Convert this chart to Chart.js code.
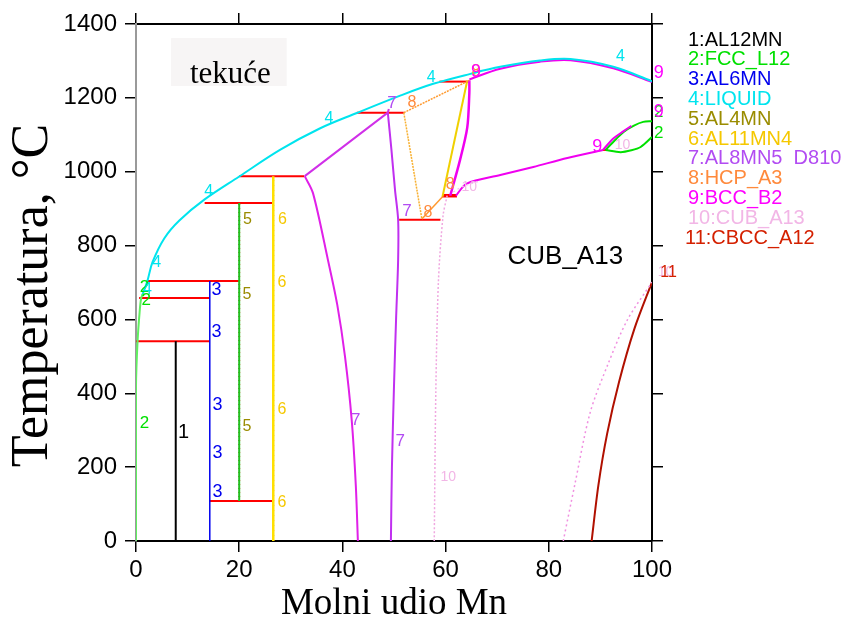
<!DOCTYPE html>
<html>
<head>
<meta charset="utf-8">
<title>Al-Mn</title>
<script src="https://cdn.jsdelivr.net/npm/chart.js@4.4.1/dist/chart.umd.min.js"></script>
<style>
  body { margin: 0; background: #fff; }
  canvas { display: block; }
</style>
</head>
<body>
<canvas id="phaseChart" width="847" height="626"></canvas>
<script>
// Phase names and their colours
const phases = ['1:AL12MN', '2:FCC_L12', '3:AL6MN', '4:LIQUID', '5:AL4MN', '6:AL11MN4',
    '7:AL8MN5  D810', '8:HCP_A3', '9:BCC_B2', '10:CUB_A13', '11:CBCC_A12'];
const phaseColors = ['#000000', '#00e000', '#0000ee', '#00e4ee', '#9a8c00', '#f5c800',
    '#b24cf2', '#ff8a3c', '#ff00ff', '#f2b6e6', '#d42000'];

// Boundaries as [x (mol Mn %), T (°C)]
const liquidus = [[1.2, 665], [2.2, 704], [3.2, 755], [5.5, 820], [8.4, 868], [13.3, 925], [20, 987],
    [27.9, 1059], [35.6, 1117], [42.8, 1159], [51.2, 1206], [57.6, 1238], [64.8, 1265], [70.6, 1284],
    [78.3, 1301], [84.2, 1305], [92.5, 1284], [100, 1245]];
const bccSolidus = [[64.6, 1250], [70.6, 1279], [78.3, 1298], [84.2, 1302], [92.5, 1280], [100, 1243]];
const fccAl = [[0, 0], [0, 420], [0.3, 540], [0.7, 620], [1.0, 658], [1.3, 668]];

const invariants = [
    [[0, 541], [14.3, 541]],
    [[0.6, 658], [14.3, 658]],
    [[2.2, 704], [20, 704]],
    [[13.3, 915], [26.6, 915]],
    [[20, 988], [32.6, 988]],
    [[42.8, 1160], [51.9, 1160]],
    [[58.8, 1244], [64.6, 1244]],
    [[51.0, 870], [59.0, 870]],
    [[14.3, 108], [26.6, 108]],
    [[90.4, 1059], [91.4, 1059]]
];
const inv935 = [[59.3, 935], [62.2, 935]];

const al12mn = [[7.7, 0], [7.7, 541]];
const al6mn = [[14.3, 0], [14.3, 704]];
const al4mn = [[20, 108], [20, 915]];
const al11mn4 = [[26.6, 0], [26.6, 988]];

const d810Top = [[32.7, 988], [48.8, 1160], [49.0, 1170]];
const d810Left = [[32.7, 988], [34.3, 942], [37.2, 761], [39.0, 640], [40.5, 500], [41.8, 328], [42.6, 150], [43.0, 0]];
const d810Right = [[48.8, 1160], [49.5, 1060], [50.2, 950], [50.8, 870], [50.8, 761], [50.4, 600], [50.0, 420], [49.6, 200], [49.4, 0]];

const hcpTop = [[51.9, 1160], [64.6, 1247]];
const hcpLeft = [[51.9, 1160], [55.4, 872]];
const hcpBottom = [[55.4, 872], [59.4, 932]];
const hcpRight = [[59.4, 932], [64.2, 1247]];

const bccLeft = [[60.9, 935], [62.8, 1032], [64.2, 1120], [64.6, 1213], [64.6, 1248]];
const bccLower = [[62.0, 935], [64.1, 968], [70.6, 991], [77.0, 1013], [83.6, 1037], [90.5, 1059]];
const bccLoop = [[90.5, 1059], [92.5, 1090], [94.5, 1110], [96.0, 1124]];

const fccMnUpper = [[91.0, 1059], [93.0, 1088], [94.5, 1108], [96.5, 1125], [98.3, 1135], [100, 1137]];
const fccMnLower = [[91.0, 1059], [93.9, 1053], [96.0, 1058], [97.8, 1067], [100, 1094]];

const cubLeft = [[60.3, 935], [59.5, 880], [58.6, 700], [58.1, 400], [57.8, 0]];
const cubRight = [[82.8, 0], [85.0, 150], [88.0, 347], [91.5, 480], [95.2, 598], [100, 701]];
const cubTop = [[61.5, 945], [63.0, 958], [66.7, 975]];
const cbcc = [[88.3, 0], [89.6, 150], [91.3, 290], [93.6, 430], [96.6, 575], [100, 701]];

// Phase number tags: [text, x, T, phase index]
const tags = [
    ['1', 9.2, 295, 0],
    ['2', 1.65, 320, 1], ['2', 1.65, 688, 1], ['2', 2.0, 653, 1], ['2', 101.3, 1162, 1], ['2', 101.3, 1105, 1],
    ['3', 15.6, 680, 2], ['3', 15.6, 566, 2], ['3', 15.8, 368, 2], ['3', 15.8, 238, 2], ['3', 15.8, 133, 2],
    ['4', 2.2, 680, 3], ['4', 4.0, 753, 3], ['4', 14.1, 945, 3], ['4', 37.4, 1145, 3], ['4', 57.2, 1256, 3], ['4', 93.9, 1311, 3],
    ['5', 21.6, 869, 4], ['5', 21.5, 666, 4], ['5', 21.5, 309, 4],
    ['6', 28.4, 869, 5], ['6', 28.3, 699, 5], ['6', 28.3, 355, 5], ['6', 28.3, 103, 5],
    ['7', 42.6, 328, 6], ['7', 51.2, 271, 6], ['7', 52.5, 894, 6], ['7', 49.6, 1186, 6],
    ['8', 53.5, 1186, 7], ['8', 56.6, 888, 7], ['8', 60.9, 964, 7], ['8', 65.9, 1270, 7],
    ['9', 65.9, 1270, 8], ['9', 101.3, 1267, 8], ['9', 101.3, 1162, 8], ['9', 89.4, 1067, 8],
    ['10', 60.5, 173, 9], ['10', 94.3, 1072, 9], ['10', 64.6, 959, 9], ['10', 102.6, 728, 9],
    ['11', 103.2, 728, 10]
];
const tagSizes = [20, 17, 18, 16, 16, 16, 17, 16, 18, 14, 16];

const toPts = arr => arr.map(([x, y]) => ({ x: x, y: y }));

function curve(pts, color, width, extra) {
    return Object.assign({
        data: toPts(pts),
        borderColor: color,
        backgroundColor: color,
        borderWidth: width,
        showLine: true,
        pointRadius: 0,
        pointHoverRadius: 0,
        tension: 0.35,
        fill: false
    }, extra || {});
}

const datasets = [
    curve(cubLeft, '#f0a8e0', 1.5, { borderDash: [2, 2], tension: 0.3 }),
    curve(cubRight, '#f090e0', 1.5, { borderDash: [2, 3], tension: 0.3 }),
    curve(cubTop, '#f4c0ec', 1.2, { borderDash: [2, 3] }),
    curve(fccAl, '#60f060', 2, { tension: 0.3 }),
    curve(al12mn, '#000000', 2, { tension: 0 }),
    curve(al6mn, '#0000ee', 1.5, { tension: 0 }),
    curve(al4mn, '#20c020', 2, { tension: 0 }),
    curve(al4mn, '#e02000', 2, { tension: 0, borderDash: [1, 3] }),
    curve(al11mn4, '#ffe000', 2.5, { tension: 0 }),
    curve(al11mn4, '#ff9000', 2, { tension: 0, borderDash: [1, 4] }),
    curve(d810Top, '#d030e8', 2, { tension: 0 }),
    curve(d810Left, '#e020e8', 2, { tension: 0.3 }),
    curve(d810Right, '#c030f0', 2, { tension: 0.3 }),
    curve(hcpTop, '#ff9a30', 1.5, { tension: 0, borderDash: [2, 1] }),
    curve(hcpLeft, '#f8b030', 1.5, { tension: 0, borderDash: [2, 1] }),
    curve(hcpBottom, '#ff9a30', 1.5, { tension: 0 }),
    curve(hcpRight, '#f0d000', 2, { tension: 0 }),
    curve(bccLeft, '#f000f0', 2.5, { tension: 0.3 }),
    curve(bccLower, '#f000f0', 2, { tension: 0.3 }),
    curve(bccLoop, '#f000f0', 2, { tension: 0.3 }),
    curve(fccMnUpper, '#00e000', 2, { tension: 0.3 }),
    curve(fccMnLower, '#00e000', 2, { tension: 0.3 }),
    curve(cbcc, '#b01000', 2, { tension: 0.3 }),
    curve(liquidus, '#00e4ee', 2, { tension: 0.35 }),
    curve(bccSolidus, '#f000f0', 2, { tension: 0.35 })
];
invariants.forEach(seg => datasets.push(curve(seg, '#ff0000', 2, { tension: 0 })));
datasets.push(curve(inv935, '#ff0000', 3.5, { tension: 0 }));

// Region names, phase tags and the phase list
const annotations = {
    id: 'annotations',
    beforeDatasetsDraw(chart) {
        const { ctx, scales: { x, y } } = chart;
        ctx.save();
        ctx.fillStyle = '#f7f5f5';
        const x0 = x.getPixelForValue(6.8), x1 = x.getPixelForValue(29.2);
        const y0 = y.getPixelForValue(1362), y1 = y.getPixelForValue(1232);
        ctx.fillRect(x0, y0, x1 - x0, y1 - y0);
        ctx.fillStyle = '#000';
        ctx.font = '31px "Liberation Serif"';
        ctx.textAlign = 'center';
        ctx.textBaseline = 'alphabetic';
        ctx.fillText('tekuće', x.getPixelForValue(18.3), y.getPixelForValue(1240));
        ctx.font = '26px "Liberation Sans"';
        ctx.textBaseline = 'middle';
        ctx.fillText('CUB_A13', x.getPixelForValue(83.2), y.getPixelForValue(769));
        ctx.restore();
    },
    afterDatasetsDraw(chart) {
        const { ctx, scales: { x, y } } = chart;
        ctx.save();
        ctx.textAlign = 'center';
        ctx.textBaseline = 'middle';
        tags.forEach(([txt, tx, ty, p]) => {
            ctx.font = tagSizes[p] + 'px "Liberation Sans"';
            ctx.fillStyle = phaseColors[p];
            ctx.fillText(txt, x.getPixelForValue(tx), y.getPixelForValue(ty));
        });
        ctx.restore();
    },
    afterDraw(chart) {
        const ctx = chart.ctx;
        ctx.save();
        ctx.font = '20px "Liberation Sans"';
        ctx.textAlign = 'left';
        ctx.textBaseline = 'middle';
        phases.forEach((name, i) => {
            ctx.fillStyle = phaseColors[i];
            ctx.fillText(name, i === 10 ? 685 : 688, 40 + i * 19.8);
        });
        ctx.restore();
    }
};

const tickFont = { family: 'Liberation Sans', size: 24 };

// Frame axis: tick marks only, labels kept invisible
function frameAxis(position, size, extra) {
    const horizontal = position === 'top' || position === 'bottom';
    return Object.assign({
        type: 'linear',
        position: position,
        min: 0,
        max: horizontal ? 100 : 1400,
        ticks: { stepSize: horizontal ? 20 : 200, color: 'rgba(0,0,0,0)', font: { size: 1 }, padding: 0 },
        grid: { drawOnChartArea: false, color: '#000', tickLength: 11, lineWidth: 1.5 },
        border: { color: '#000', width: 2 },
        afterFit(scale) {
            if (horizontal) scale.height = size; else scale.width = size;
        }
    }, extra || {});
}

const ctx = document.getElementById('phaseChart').getContext('2d');
const phaseChart = new Chart(ctx, {
    type: 'scatter',
    data: { datasets: datasets },
    options: {
        responsive: false,
        animation: false,
        devicePixelRatio: 1,
        layout: { padding: 0 },
        plugins: { legend: { display: false }, tooltip: { enabled: false } },
        scales: {
            x: frameAxis('bottom', 85, {
                ticks: { stepSize: 20, color: '#000', font: tickFont, padding: 4, maxRotation: 0,
                    callback: v => String(v) },
                title: { display: true, text: 'Molni udio Mn', color: '#000',
                    font: { family: 'Liberation Serif', size: 37 }, padding: { top: 0, bottom: 0 } }
            }),
            x2: frameAxis('top', 24),
            y: frameAxis('left', 136, {
                ticks: { stepSize: 200, color: '#000', font: tickFont, padding: 8,
                    callback: v => String(v) },
                border: { color: '#9a9a9a', width: 2 },
                title: { display: true, text: 'Temperatura, °C  ', color: '#000',
                    font: { family: 'Liberation Serif', size: 52 }, padding: { top: 2, bottom: 0 } }
            }),
            y2: frameAxis('right', 195)
        }
    },
    plugins: [annotations]
});
</script>
</body>
</html>
